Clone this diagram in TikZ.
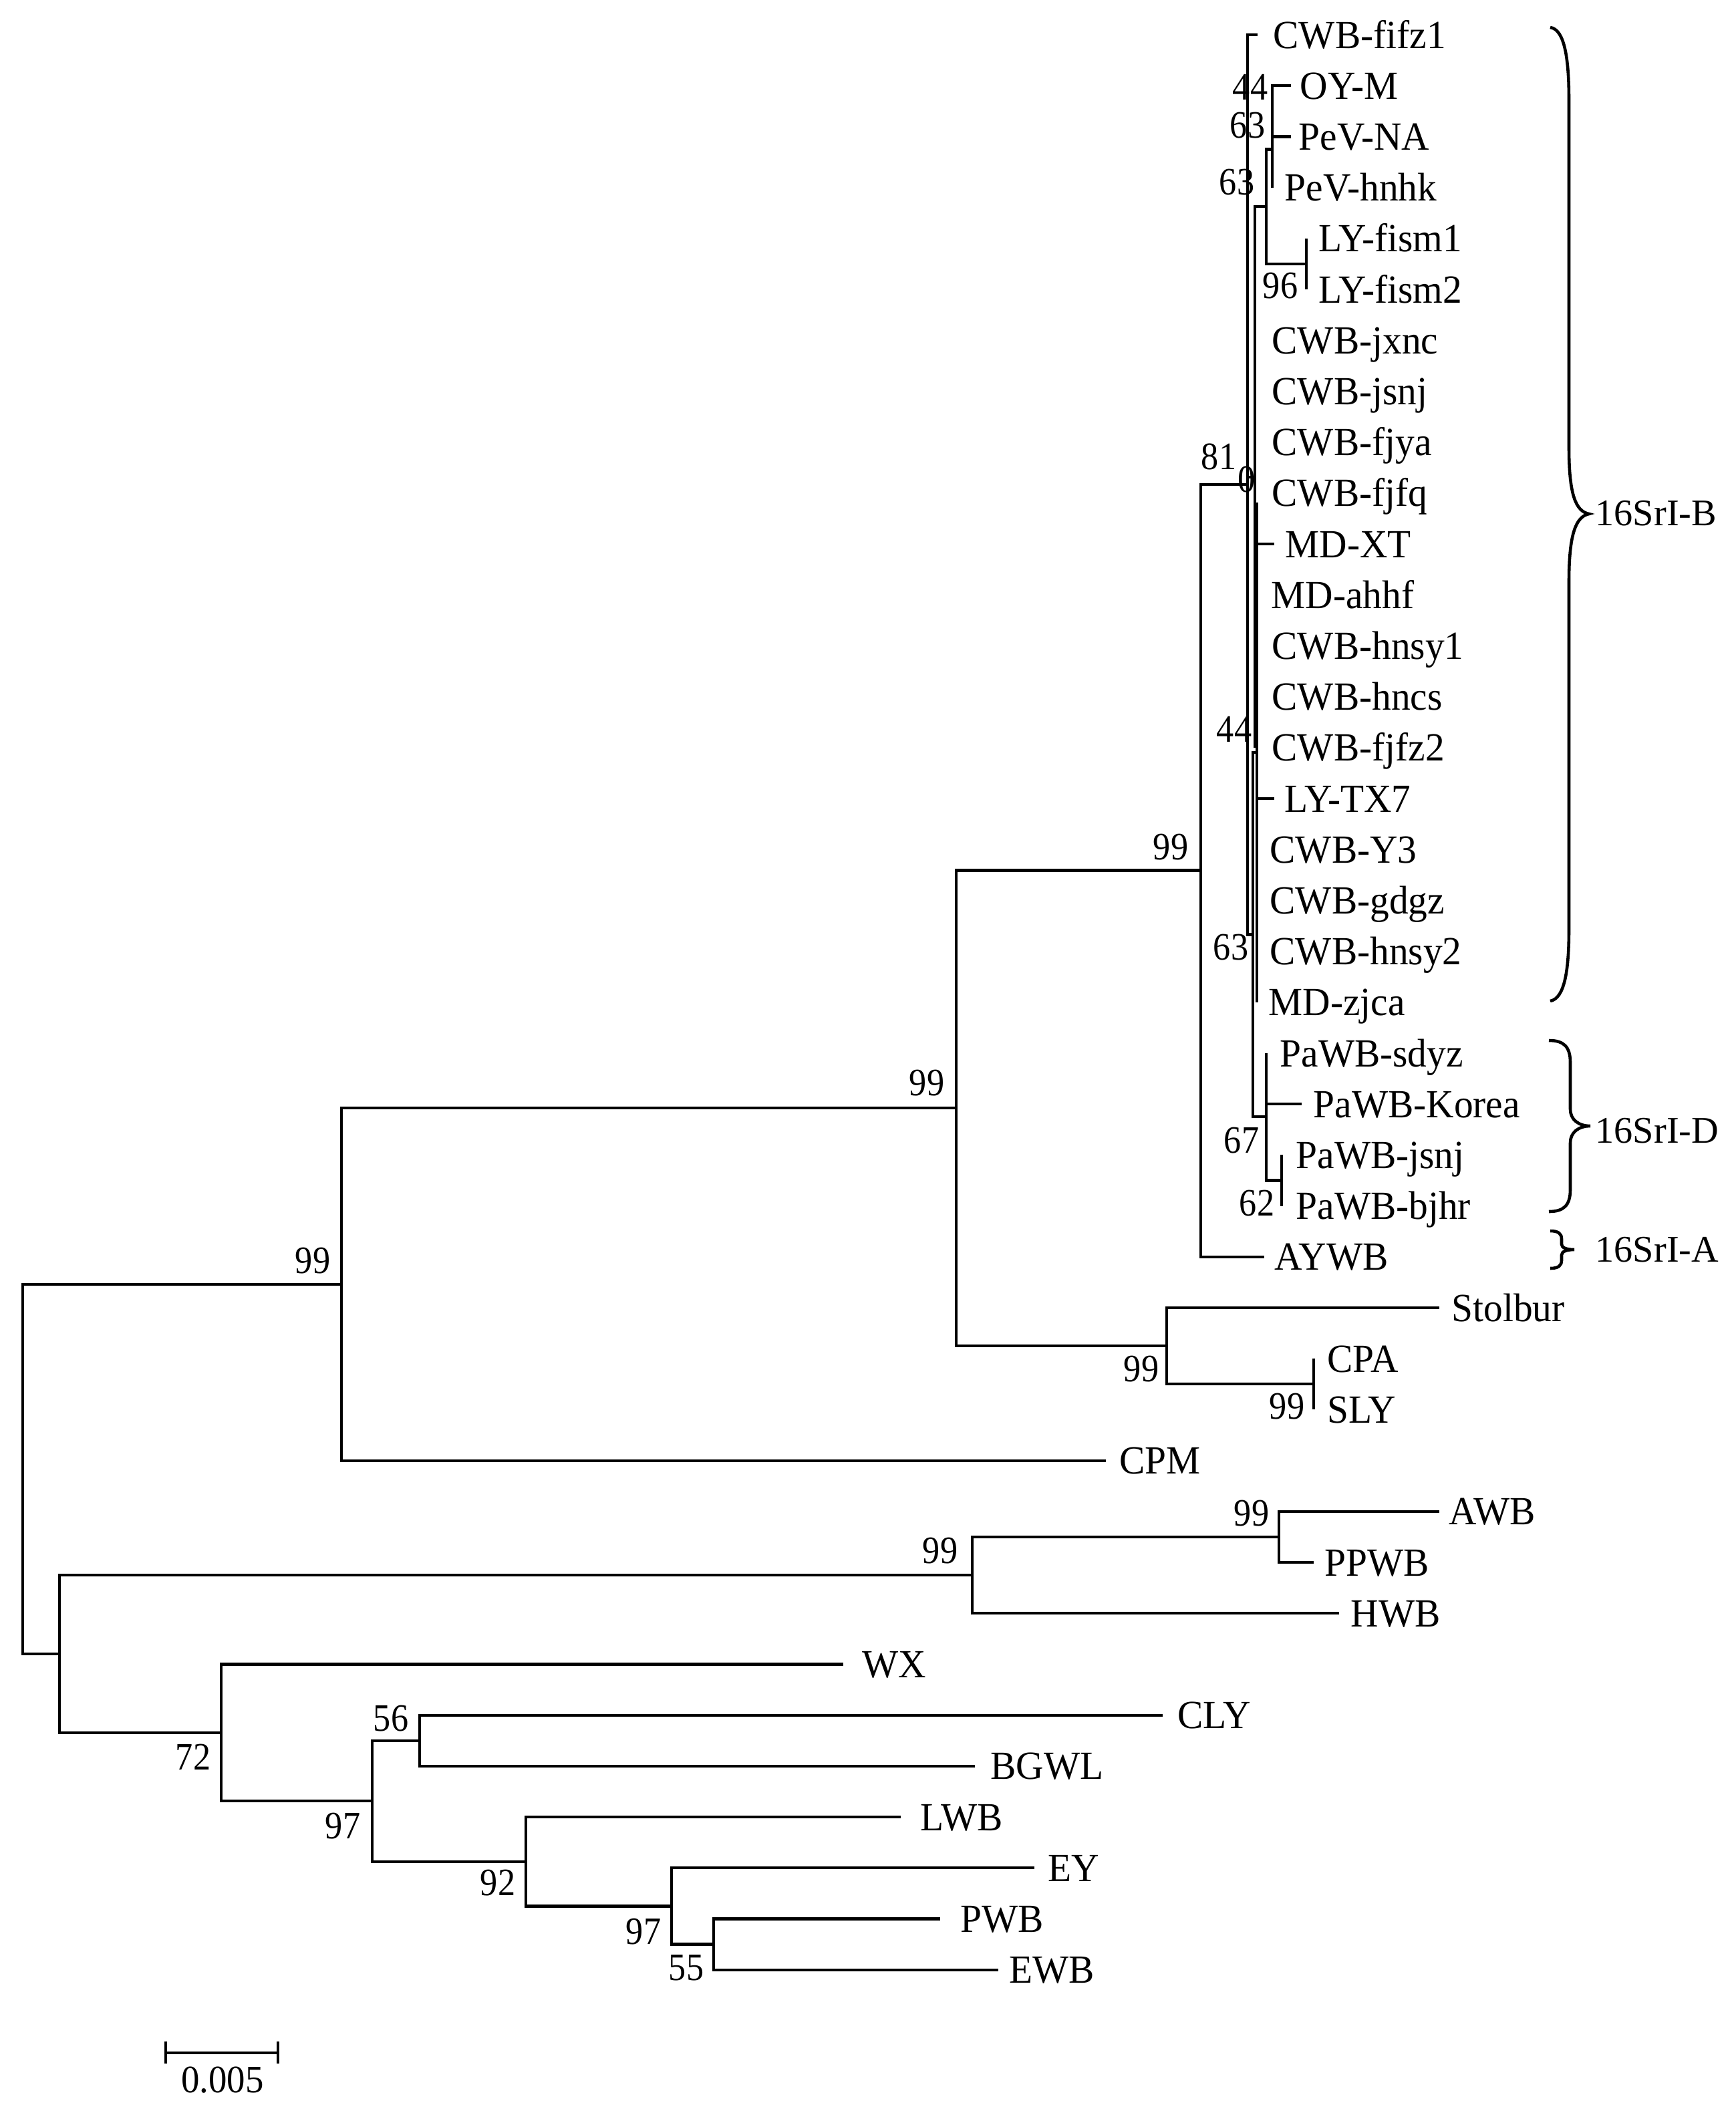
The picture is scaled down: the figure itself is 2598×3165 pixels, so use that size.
\documentclass[tikz,border=0pt]{standalone}
\usepackage{fontspec}
\setmainfont{Liberation Serif}
\begin{document}
\begin{tikzpicture}[x=0.01cm,y=-0.01cm,
  br/.style={line width=1.2pt, line join=miter},
  leaflab/.style={anchor=base west, inner sep=0pt, font=\fontsize{17pt}{20pt}\selectfont, xscale=0.96},
  bslab/.style={anchor=center, inner sep=0pt, font=\fontsize{16.5pt}{19pt}\selectfont, xscale=0.9},
  grplab/.style={anchor=west, inner sep=0pt, font=\fontsize{16pt}{19pt}\selectfont},
  brc/.style={line width=1.3pt}]
\useasboundingbox (0,0) rectangle (2598,3165);

% ---------- internal nodes (junction points)
\coordinate (nA1) at (1904,166.3);
\coordinate (nA) at (1904,223.5);
\coordinate (nLY) at (1955,394.9);
\coordinate (nB) at (1895,309.2);
\coordinate (nC) at (1878,714);
\coordinate (nDt) at (1881,752);
\coordinate (nD) at (1881,1126);
\coordinate (nPj) at (1918,1766.5);
\coordinate (nP) at (1895,1671);
\coordinate (n63) at (1875,1398.5);
\coordinate (n0) at (1867,725);
\coordinate (n81) at (1797,1302.4);
\coordinate (nCS) at (1966,2071.3);
\coordinate (nSt) at (1746,2014);
\coordinate (n99b) at (1431,1658);
\coordinate (n99c) at (511,1922);
\coordinate (nAP) at (1914,2300);
\coordinate (nAW) at (1455,2357);
\coordinate (nPE) at (1068,2909.5);
\coordinate (nEY) at (1005,2852.4);
\coordinate (nLW) at (787,2785.7);
\coordinate (nCB) at (628,2604.7);
\coordinate (n97) at (557,2695.2);
\coordinate (n72) at (331,2592.8);
\coordinate (n89) at (89,2474.9);
\coordinate (root) at (34,2198.5);

% ---------- leaf tips
\coordinate (t0) at (1882,52);
\coordinate (t1) at (1932,128.2);
\coordinate (t2) at (1932,204.4);
\coordinate (t3) at (1904,280.6);
\coordinate (t4) at (1955,356.8);
\coordinate (t5) at (1955,433);
\coordinate (t6) at (1878,509.2);
\coordinate (t7) at (1878,585.4);
\coordinate (t8) at (1878,661.6);
\coordinate (t9) at (1878,737.8);
\coordinate (t10) at (1907,814);
\coordinate (t11) at (1878,890.2);
\coordinate (t12) at (1878,966.4);
\coordinate (t13) at (1878,1042.6);
\coordinate (t14) at (1878,1118.8);
\coordinate (t15) at (1907,1195);
\coordinate (t16) at (1881,1271.2);
\coordinate (t17) at (1881,1347.4);
\coordinate (t18) at (1881,1423.6);
\coordinate (t19) at (1881,1499.8);
\coordinate (t20) at (1895,1576);
\coordinate (t21) at (1948,1652.2);
\coordinate (t22) at (1918,1728.4);
\coordinate (t23) at (1918,1804.6);
\coordinate (t24) at (1892,1880.8);
\coordinate (t25) at (2154,1957);
\coordinate (t26) at (1966,2033.2);
\coordinate (t27) at (1966,2109.4);
\coordinate (t28) at (1655,2185.6);
\coordinate (t29) at (2154,2261.8);
\coordinate (t30) at (1966,2338);
\coordinate (t31) at (2004,2414.2);
\coordinate (t32) at (1262,2490.4);
\coordinate (t33) at (1740,2566.6);
\coordinate (t34) at (1459,2642.8);
\coordinate (t35) at (1348,2719);
\coordinate (t36) at (1548,2795.2);
\coordinate (t37) at (1407,2871.4);
\coordinate (t38) at (1494,2947.6);

% ---------- branches
\draw[br] (nA1) |- (t1); \draw[br] (nA1) |- (t2);
\draw[br] (nA) |- (nA1); \draw[br] (nA) |- (t3);
\draw[br] (nLY) |- (t4); \draw[br] (nLY) |- (t5);
\draw[br] (nB) |- (nA); \draw[br] (nB) |- (nLY);
\draw[br] (nC) |- (nB); \draw[br] (nC) |- (t6); \draw[br] (nC) |- (t10); \draw[br] (nC) |- (t14);
\draw[br] (nD) |- (nDt); \draw[br] (nD) |- (t15); \draw[br] (nD) |- (t19);
\draw[br] (nPj) |- (t22); \draw[br] (nPj) |- (t23);
\draw[br] (nP) |- (t20); \draw[br] (nP) |- (t21); \draw[br] (nP) |- (nPj);
\draw[br] (n63) |- (nD); \draw[br] (n63) |- (nP);
\draw[br] (n0) |- (t0); \draw[br] (n0) |- (nC); \draw[br] (n0) |- (n63);
\draw[br] (n81) |- (n0); \draw[br] (n81) |- (t24);
\draw[br] (nCS) |- (t26); \draw[br] (nCS) |- (t27);
\draw[br] (nSt) |- (t25); \draw[br] (nSt) |- (nCS);
\draw[br] (n99b) |- (n81); \draw[br] (n99b) |- (nSt);
\draw[br] (n99c) |- (n99b); \draw[br] (n99c) |- (t28);
\draw[br] (root) |- (n99c); \draw[br] (root) |- (n89);
\draw[br] (nAP) |- (t29); \draw[br] (nAP) |- (t30);
\draw[br] (nAW) |- (nAP); \draw[br] (nAW) |- (t31);
\draw[br] (n89) |- (nAW); \draw[br] (n89) |- (n72);
\draw[br] (n72) |- (t32); \draw[br] (n72) |- (n97);
\draw[br] (n97) |- (nCB); \draw[br] (n97) |- (nLW);
\draw[br] (nCB) |- (t33); \draw[br] (nCB) |- (t34);
\draw[br] (nLW) |- (t35); \draw[br] (nLW) |- (nEY);
\draw[br] (nEY) |- (t36); \draw[br] (nEY) |- (nPE);
\draw[br] (nPE) |- (t37); \draw[br] (nPE) |- (t38);

% ---------- leaf labels
\node[leaflab] (L0) at (1905,72) {CWB-fifz1};
\node[leaflab] (L1) at (1945,148.2) {OY-M};
\node[leaflab] (L2) at (1943,224.4) {PeV-NA};
\node[leaflab] (L3) at (1922,300.6) {PeV-hnhk};
\node[leaflab] (L4) at (1973,376.8) {LY-fism1};
\node[leaflab] (L5) at (1973,453) {LY-fism2};
\node[leaflab] (L6) at (1903,529.2) {CWB-jxnc};
\node[leaflab] (L7) at (1903,605.4) {CWB-jsnj};
\node[leaflab] (L8) at (1903,681.6) {CWB-fjya};
\node[leaflab] (L9) at (1903,757.8) {CWB-fjfq};
\node[leaflab] (L10) at (1923,834) {MD-XT};
\node[leaflab] (L11) at (1902,910.2) {MD-ahhf};
\node[leaflab] (L12) at (1903,986.4) {CWB-hnsy1};
\node[leaflab] (L13) at (1903,1062.6) {CWB-hncs};
\node[leaflab] (L14) at (1903,1138.8) {CWB-fjfz2};
\node[leaflab] (L15) at (1922,1215) {LY-TX7};
\node[leaflab] (L16) at (1900,1291.2) {CWB-Y3};
\node[leaflab] (L17) at (1900,1367.4) {CWB-gdgz};
\node[leaflab] (L18) at (1900,1443.6) {CWB-hnsy2};
\node[leaflab] (L19) at (1898,1519.8) {MD-zjca};
\node[leaflab] (L20) at (1915,1596) {PaWB-sdyz};
\node[leaflab] (L21) at (1965,1672.2) {PaWB-Korea};
\node[leaflab] (L22) at (1939,1748.4) {PaWB-jsnj};
\node[leaflab] (L23) at (1939,1824.6) {PaWB-bjhr};
\node[leaflab] (L24) at (1907,1900.8) {AYWB};
\node[leaflab] (L25) at (2172,1977) {Stolbur};
\node[leaflab] (L26) at (1986,2053.2) {CPA};
\node[leaflab] (L27) at (1986,2129.4) {SLY};
\node[leaflab] (L28) at (1675,2205.6) {CPM};
\node[leaflab] (L29) at (2168,2281.8) {AWB};
\node[leaflab] (L30) at (1982,2358) {PPWB};
\node[leaflab] (L31) at (2021,2434.2) {HWB};
\node[leaflab] (L32) at (1290,2510.4) {WX};
\node[leaflab] (L33) at (1762,2586.6) {CLY};
\node[leaflab] (L34) at (1482,2662.8) {BGWL};
\node[leaflab] (L35) at (1377,2739) {LWB};
\node[leaflab] (L36) at (1568,2815.2) {EY};
\node[leaflab] (L37) at (1437,2891.4) {PWB};
\node[leaflab] (L38) at (1510,2967.6) {EWB};

% ---------- bootstrap values
\node[bslab] (b1) at (1871,130) {44};
\node[bslab] (b2) at (1867,188) {63};
\node[bslab] (b3) at (1851,273) {63};
\node[bslab] (b4) at (1916,428) {96};
\node[bslab] (b5) at (1824,683) {81};
\node[bslab] (b6) at (1866,717) {0};
\node[bslab] (b7) at (1847,1091) {44};
\node[bslab] (b8) at (1842,1418) {63};
\node[bslab] (b9) at (1858,1707) {67};
\node[bslab] (b10) at (1881,1801) {62};
\node[bslab] (b11) at (1752,1268) {99};
\node[bslab] (b12) at (1387,1621) {99};
\node[bslab] (b13) at (1708,2049) {99};
\node[bslab] (b14) at (1926,2105) {99};
\node[bslab] (b15) at (468,1887) {99};
\node[bslab] (b16) at (1407,2321) {99};
\node[bslab] (b17) at (1873,2265) {99};
\node[bslab] (b18) at (289,2629) {72};
\node[bslab] (b19) at (585,2572) {56};
\node[bslab] (b20) at (513,2733) {97};
\node[bslab] (b21) at (745,2818) {92};
\node[bslab] (b22) at (963,2891) {97};
\node[bslab] (b23) at (1027,2945) {55};

% ---------- group braces
\draw[brc] (2320,41) .. controls (2342,44) and (2348,90) .. (2348,150) -- (2348,670)
  .. controls (2348,740) and (2358,765) .. (2378,769)
  .. controls (2358,773) and (2348,800) .. (2348,870) -- (2348,1390)
  .. controls (2348,1450) and (2342,1494) .. (2320,1498);
\node[grplab] (gB) at (2387,768) {16SrI-B};
\draw[brc] (2318,1557) .. controls (2340,1557) and (2350,1566) .. (2350,1590) -- (2350,1660)
  .. controls (2350,1675) and (2362,1685) .. (2380,1685)
  .. controls (2362,1685) and (2350,1695) .. (2350,1710) -- (2350,1780)
  .. controls (2350,1804) and (2340,1813) .. (2318,1813);
\node[grplab] (gD) at (2387,1692) {16SrI-D};
\draw[brc] (2320,1842) .. controls (2332,1842) and (2337,1846) .. (2337,1854) -- (2337,1862)
  .. controls (2337,1867) and (2344,1870) .. (2356,1870)
  .. controls (2344,1870) and (2337,1873) .. (2337,1878) -- (2337,1886)
  .. controls (2337,1894) and (2332,1898) .. (2320,1898);
\node[grplab] (gA) at (2387,1870) {16SrI-A};

% ---------- scale bar
\coordinate (sbL) at (248,3072);
\coordinate (sbR) at (416,3072);
\draw[br] (sbL) -- (sbR);
\draw[br] ([yshift=0.17cm]sbL) -- ([yshift=-0.16cm]sbL);
\draw[br] ([yshift=0.17cm]sbR) -- ([yshift=-0.16cm]sbR);
\node[bslab, font=\fontsize{16.5pt}{19pt}\selectfont, xscale=1.05] (sbT) at (333,3113) {0.005};
\end{tikzpicture}
\end{document}
